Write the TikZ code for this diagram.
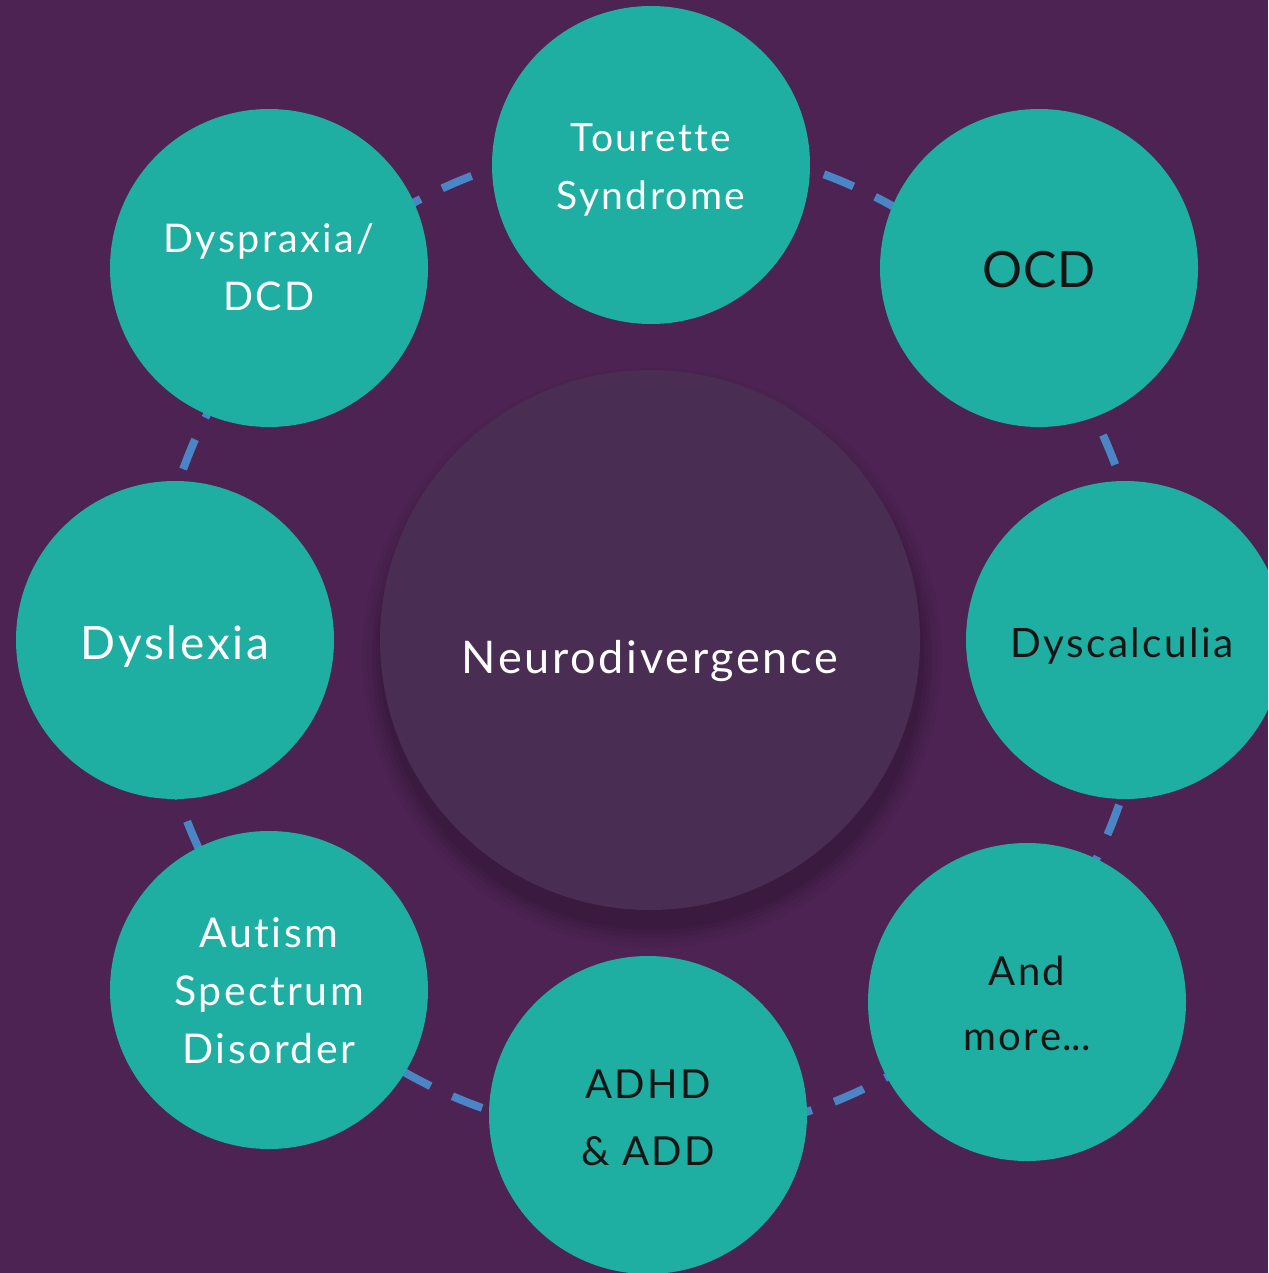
\documentclass[tikz,border=0pt]{standalone}
\usepackage{fontspec}
\setmainfont{Lato}[LetterSpace=6,Ligatures={NoCommon}]
\definecolor{bgpurple}{HTML}{4C2352}
\definecolor{teal}{HTML}{1EAFA2}
\definecolor{centerc}{HTML}{4A2D52}
\definecolor{dashblue}{HTML}{4A86C5}
\definecolor{darktext}{HTML}{151515}
% #1 raise of first baseline, #2 line distance, #3 lines separated by \cr
\newcommand\lbl[3]{\raisebox{#1}[0pt][0pt]{\vtop{\baselineskip=#2\lineskiplimit=-100pt\lineskip=0pt\halign{\hfil##\hfil\cr#3\cr}}}}
\tikzset{
  bub/.style={circle, fill=teal, minimum size=318pt, inner sep=0pt,
    font=\fontsize{39}{58}\selectfont},
  ring/.style={draw=dashblue, line width=8pt, dash pattern=on 32pt off 24pt},
}
\begin{document}
\begin{tikzpicture}[x=1pt,y=-1pt]
\fill[bgpurple] (0,0) rectangle (1268,1273);
\useasboundingbox (0,0) rectangle (1268,1273);
\clip (0,0) rectangle (1268,1273);
\coordinate (c) at (650,640);
\draw[ring] (c) circle[radius=497];
% soft shadow of centre circle
\foreach \r/\o in {290/0.025,285/0.035,280/0.045,276/0.06,272/0.07}{
  \fill[black, opacity=\o] (652,658) circle[radius=\r];
}
\node[circle, fill=centerc, minimum size=540pt, inner sep=0pt, text=white,
  font=\fontsize{45}{50}\selectfont] (nd) at (c) {\lbl{-33pt}{50pt}{Neurodivergence}};
\node[bub, text=white] (ts) at (651,165) {\lbl{13pt}{58pt}{Tourette\cr Syndrome}};
\node[bub, text=darktext, font=\fontsize{50}{60}\selectfont\addfontfeatures{LetterSpace=1}] (ocd) at (1039,268) {\lbl{-20pt}{60pt}{OCD}};
\node[bub, text=darktext, font=\fontsize{40.5}{58}\selectfont] (dc) at (1125,640) {\hspace*{-6pt}\lbl{-17pt}{58pt}{Dyscalculia}};
\node[bub, text=darktext, font=\fontsize{40}{65}\selectfont] (am) at (1027,1002) {\lbl{17pt}{65pt}{And\cr more\kern1pt{\addfontfeatures{LetterSpace=0}...}}};
\node[bub, text=darktext, font=\fontsize{40}{67}\selectfont] (adhd) at (648,1115) {\lbl{17pt}{67pt}{ADHD\cr\&\ ADD}};
\node[bub, text=white, font=\fontsize{41}{58}\selectfont] (asd) at (269,990) {\lbl{43pt}{58pt}{Autism\cr Spectrum\cr Disorder}};
\node[bub, text=white, font=\fontsize{46}{50}\selectfont] (dl) at (175,640) {\lbl{-19pt}{50pt}{Dyslexia}};
\node[bub, text=white, font=\fontsize{39.5}{58}\selectfont] (dp) at (269,268) {\lbl{16pt}{58pt}{Dyspraxia/\cr DCD}};
\end{tikzpicture}
\end{document}
